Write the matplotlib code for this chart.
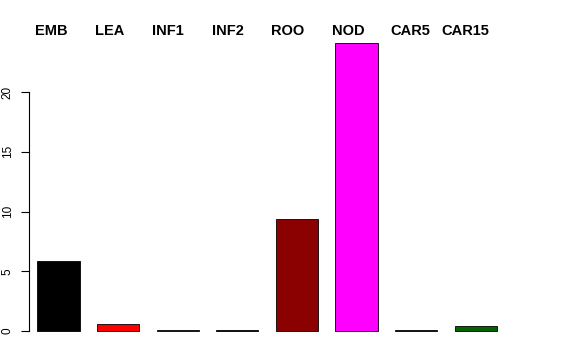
import matplotlib
matplotlib.use("Agg")
import matplotlib.pyplot as plt

# Данные
tissues = ["EMB", "LEA", "INF1", "INF2", "ROO", "NOD", "CAR5", "CAR15"]
values = [5.85, 0.55, 0.1, 0.1, 9.4, 24.1, 0.07, 0.4]
colors = ["#000000", "#ff0000", "#2f4f2f", "#000000", "#8b0000", "#ff00ff", "#191970", "#006400"]
yticks = [0, 5, 10, 15, 20]
# центры подписей сверху, в пикселях
label_x = [51, 110, 168, 228, 288, 348, 410, 465]

W, H = 576, 360
plt.rcParams['font.family'] = ['Liberation Sans', 'DejaVu Sans']
fig = plt.figure(figsize=(W / 100, H / 100), dpi=100)

left, right, bottom, top = 29, 560, 331, 40
ax = fig.add_axes([left / W, 1 - bottom / H, (right - left) / W, (bottom - top) / H])

ax.bar(range(len(values)), values, width=0.71, color=colors,
       edgecolor="black", linewidth=0.6, clip_on=False)

ax.set_xlim((left - 58.5) / 59.6, (right - 58.5) / 59.6)
ax.set_ylim(0, (bottom - top) / 11.95)

for s in ["top", "right", "bottom"]:
    ax.spines[s].set_visible(False)
ax.spines["left"].set_bounds(0, 20)
ax.spines["left"].set_linewidth(0.8)
ax.set_xticks([])
ax.set_yticks(yticks)
ax.set_yticklabels([str(t) for t in yticks], rotation=90, va="center", fontsize=8.5)
ax.tick_params(axis="y", length=6, width=0.8, pad=5)

for name, x in zip(tissues, label_x):
    fig.text(x / W, 1 - 31 / H, name, ha="center", va="center",
             fontsize=10.5, fontweight="bold")

fig.savefig("out.png", dpi=100)
